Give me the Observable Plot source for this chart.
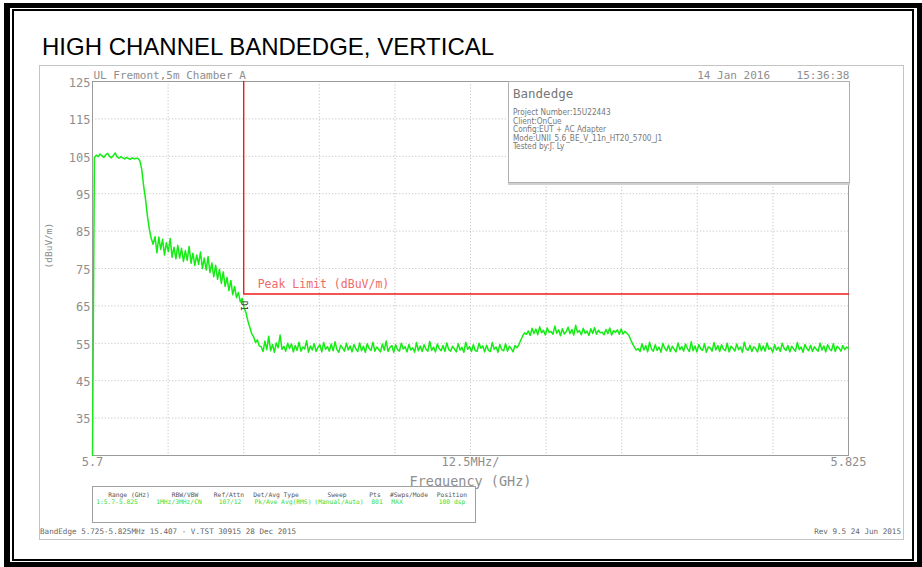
<!DOCTYPE html>
<html>
<head>
<meta charset="utf-8">
<script src="https://cdn.jsdelivr.net/npm/d3@7"></script>
<script src="https://cdn.jsdelivr.net/npm/@observablehq/plot@0.6"></script>
<style>
  html, body { margin: 0; padding: 0; background: #fff; }
  #page { position: relative; width: 922px; height: 567px; overflow: hidden; background: #fff; }
  .abs { position: absolute; }
  #outer { left: 4px; top: 3px; width: 907px; height: 554px; border: 5px solid #000; border-left-width: 6px; }
  #inner { left: 12px; top: 9px; width: 898px; height: 548px; border: 2px solid #000; }
  #title { left: 42px; top: 33px; font: 24px "Liberation Sans", Arial, sans-serif; color: #000; white-space: nowrap; }
  #shot { left: 39px; top: 65px; width: 863px; height: 473px; border: 1px solid #c4c4c4; }
  #chart { left: 39px; top: 65px; }
  .mono { font-family: "DejaVu Sans Mono", monospace; white-space: nowrap; }
  #info { left: 508px; top: 81px; width: 340px; height: 100px; background: #fff; border: 1px solid #b0b0b0; box-shadow: 0 2px 0 #d0d0d0; }
  #info .h { position: absolute; left: 4px; top: 4px; font-size: 12.5px; color: #777; }
  #info .l { position: absolute; left: 4px; font-family: "DejaVu Sans Condensed", "DejaVu Sans", sans-serif; font-size: 8.2px; color: #777; line-height: 8px; }
  #table { left: 92px; top: 486px; width: 382px; height: 35px; background: #fff; border: 1px solid #a0a0a0; }
  .th { position: absolute; top: 4px; font-size: 6.3px; color: #555; transform: translateX(-50%); }
  .td { position: absolute; top: 11px; font-size: 6.3px; color: #33dd33; transform: translateX(-50%); }
  .foot { top: 527px; font-size: 7.6px; color: #666; }
</style>
</head>
<body>
<div id="page">
  <div id="outer" class="abs"></div>
  <div id="inner" class="abs"></div>
  <div id="title" class="abs">HIGH CHANNEL BANDEDGE, VERTICAL</div>
  <div id="shot" class="abs"></div>
  <div id="chart" class="abs"></div>
  <div id="info" class="abs mono"></div>
  <div id="table" class="abs mono"></div>
  <div id="footL" class="abs mono foot" style="left:40px"></div>
  <div id="footR" class="abs mono foot" style="right:21px"></div>
</div>
<script>
// ---------------- data ----------------
const startGHz = 5.7;
const stopGHz = 5.825;
const yTicks = [35, 45, 55, 65, 75, 85, 95, 105, 115, 125];
const yGrid = [35, 45, 55, 65, 75, 85, 95, 105, 115];
const xGrid = [5.7125, 5.725, 5.7375, 5.75, 5.7625, 5.775, 5.7875, 5.8, 5.8125];
const xTickLabels = ["5.7", "12.5MHz/", "5.825"];
const xTickAt = [5.7, 5.7625, 5.825];
const limitFreqs = [5.725, 5.725, 5.825];
const limitLevels = [125, 68.2, 68.2];
const limitLabel = "Peak Limit (dBuV/m)";
const markerFreq = 5.725;
const markerLevel = 65.0;
const headerLeft = "UL Fremont,5m Chamber A";
const headerRight = "14 Jan 2016    15:36:38";
const xTitle = "Frequency (GHz)";
const yTitle = "(dBuV/m)";
const infoTitle = "Bandedge";
const infoLines = [
  "Project Number:15U22443",
  "Client:OnCue",
  "Config:EUT + AC Adapter",
  "Mode:UNII_5.6_BE_V_11n_HT20_5700_J1",
  "Tested by:J. Ly"
];
const tableHeaders = ["Range (GHz)", "RBW/VBW", "Ref/Attn", "Det/Avg Type", "Sweep", "Pts", "#Swps/Mode", "Position"];
const tableValues = ["1:5.7-5.825", "1MHz/3MHz/CN", "107/12", "Pk/Ave Avg(RMS)", "(Manual/Auto)", "801", "MAX", "100 dsp"];
const footerLeft = "BandEdge 5.725-5.825MHz 15.407 - V.TST 30915 28 Dec 2015";
const footerRight = "Rev 9.5 24 Jun 2015";

// sweep trace levels (dBuV/m), equally spaced sweep points from 5.7 to 5.825 GHz
const traceLevels = [
  25,
  104.6,105.3,104.9,105.6,105.1,104.7,105.4,105.8,105.0,104.6,105.2,105.9,104.8,104.5,104.9,104.6,104.3,104.7,104.4,104.2,104.6,104.3,104.5,104.4,
  103.8,101.5,97.0,93.5,89.0,85.5,83.0,81.5,83.5,
  79.2,83.4,80.1,82.8,78.6,81.9,79.5,83.0,78.0,80.7,77.6,
  81.2,77.8,80.4,76.9,79.8,77.2,80.9,76.4,79.1,75.8,78.6,76.1,
  79.4,75.0,77.8,74.6,78.2,73.9,76.5,72.8,75.9,72.1,74.8,
  71.0,74.1,70.2,72.6,69.1,71.8,68.0,70.2,67.2,68.6,66.1,67.0,
  64.5,63.2,61.0,59.3,57.6,56.8,55.2,55.9,54.3,
  54.1,52.8,55.6,53.3,56.9,53.0,54.7,52.6,55.1,53.8,57.2,53.4,54.2,52.9,55.0,53.6,54.8,52.7,54.4,53.1,
  55.3,52.9,54.0,53.5,55.7,52.6,54.3,53.2,54.9,52.8,53.9,54.6,52.7,55.2,53.4,54.1,52.9,54.8,53.0,55.4,
  53.3,52.6,54.5,53.7,52.9,55.0,53.2,54.3,52.7,54.7,53.5,52.8,55.1,53.0,54.2,52.6,54.9,53.6,53.1,55.3,
  52.9,54.0,53.4,52.7,54.8,53.1,55.6,52.8,53.9,54.4,52.6,54.6,53.3,52.9,55.0,53.5,54.1,52.7,54.7,53.2,
  53.8,52.6,55.2,53.0,54.3,52.8,54.6,53.4,52.9,55.5,53.1,54.0,52.7,54.8,53.6,53.0,54.4,52.8,55.1,53.3,
  52.9,54.2,53.5,52.7,54.9,53.2,53.9,52.6,55.3,53.4,54.1,52.8,54.6,53.0,52.9,55.0,53.7,54.3,52.7,54.5,
  53.1,52.8,55.2,53.4,54.0,52.6,54.7,53.3,53.0,54.9,52.9,54.2,53.6,52.7,54.4,53.8,
  54.6,55.8,56.9,57.8,57.4,
  58.3,57.1,59.0,57.6,58.8,57.3,59.4,57.8,58.5,57.2,59.1,57.9,58.2,57.4,59.6,57.7,58.6,57.0,58.9,57.5,
  58.1,59.3,57.6,58.7,57.2,59.8,57.9,58.4,57.3,59.0,57.7,58.3,57.1,58.9,57.6,59.2,57.4,58.5,57.8,58.0,
  57.3,58.7,57.6,59.1,57.2,58.4,57.9,58.6,57.4,58.8,57.5,58.2,57.7,
  57.2,56.0,54.9,54.0,53.2,
  53.6,52.8,54.9,53.2,54.4,52.7,55.3,53.5,52.9,54.6,53.1,54.0,52.6,55.0,53.7,53.0,54.5,52.8,54.2,53.4,
  52.7,55.1,53.3,54.1,52.9,54.8,53.6,52.8,55.4,53.0,54.3,52.7,54.7,53.5,53.1,54.9,52.6,54.0,53.8,52.9,
  55.2,53.2,54.4,52.8,54.6,53.4,53.0,55.0,52.7,54.2,53.7,52.9,54.8,53.3,54.0,52.6,55.3,53.5,53.1,54.5,
  52.8,54.1,53.6,52.7,54.9,53.0,54.3,52.9,55.1,53.4,53.8,52.6,54.6,53.2,54.0,52.8,55.0,53.7,53.1,54.4,
  52.7,54.2,53.5,52.9,55.2,53.3,54.0,52.6,54.7,53.6,53.0,54.5,52.8,54.1,53.4,52.9,55.0,53.2,54.3,52.7,
  54.6,53.5,53.0,54.9,52.8,54.2,53.7,52.9,54.4,53.3,54.0,53.6
];

// ---------------- build ----------------
const n = traceLevels.length;
const trace = traceLevels.map((v, i) => ({f: startGHz + i * (stopGHz - startGHz) / (n - 1), v}));
const limit = limitFreqs.map((f, i) => ({f, v: limitLevels[i]}));
const xLabels = xTickLabels.map((t, i) => ({t, f: xTickAt[i]}));

const MONO = "DejaVu Sans Mono, monospace";
const GRAY = "#8e8e8e";

const chart = Plot.plot({
  width: 864,
  height: 474,
  marginLeft: 53,
  marginRight: 55,
  marginTop: 16,
  marginBottom: 84,
  x: {domain: [startGHz, stopGHz], axis: null},
  y: {domain: [25, 125], axis: null},
  style: {fontFamily: MONO, background: "transparent", overflow: "visible"},
  marks: [
    Plot.ruleX(xGrid, {x: d => d, stroke: "#b8b8b8", strokeWidth: 0.8, strokeDasharray: "1.2,2"}),
    Plot.ruleY(yGrid, {y: d => d, stroke: "#b8b8b8", strokeWidth: 0.8, strokeDasharray: "1.2,2"}),
    Plot.frame({stroke: "#9a9a9a", strokeWidth: 1}),
    Plot.text(yTicks, {x: () => startGHz, y: d => d, text: d => String(d), textAnchor: "end", dx: -2, dy: 1.5, fontSize: 12, fill: GRAY}),
    Plot.text(xLabels, {x: "f", y: () => 25, text: "t", dy: 7, lineAnchor: "middle", fontSize: 12, fill: GRAY}),
    Plot.text([xTitle], {frameAnchor: "bottom", text: d => d, dy: 26, lineAnchor: "middle", fontSize: 13.5, fill: GRAY}),
    Plot.text([yTitle], {frameAnchor: "left", text: d => d, dx: -44, rotate: -90, fontSize: 9.5, fill: GRAY}),
    Plot.text([headerLeft], {frameAnchor: "top-left", text: d => d, dx: 1, dy: -6, textAnchor: "start", lineAnchor: "middle", fontSize: 11, fill: GRAY}),
    Plot.text([headerRight], {frameAnchor: "top-right", text: d => d, dx: 1, dy: -6, textAnchor: "end", lineAnchor: "middle", fontSize: 11, fill: GRAY}),
    Plot.line(limit, {x: "f", y: "v", stroke: "#ee1c1c", strokeWidth: 1.4}),
    Plot.text([limitLabel], {x: () => limitFreqs[0], y: () => limitLevels[1], text: d => d, textAnchor: "start", dx: 14, dy: -10, fontSize: 11.5, fill: "#f06a6a"}),
    Plot.line(trace, {x: "f", y: "v", stroke: "#14ec14", strokeWidth: 1.5, strokeLinejoin: "round"}),
    Plot.text(["D1"], {x: () => markerFreq, y: () => markerLevel, text: d => d, rotate: 90, fontSize: 8, fill: "#333"})
  ]
});
document.getElementById("chart").appendChild(chart);

// info box
const info = document.getElementById("info");
const h = document.createElement("div");
h.className = "h"; h.textContent = infoTitle; info.appendChild(h);
infoLines.forEach((s, i) => {
  const d = document.createElement("div");
  d.className = "l"; d.style.top = (26 + i * 8.5) + "px"; d.textContent = s; info.appendChild(d);
});

// settings table
const colCenters = [36, 92, 136, 183, 244, 282, 316, 359];
const valCenters = [24, 86, 137, 190, 246, 284, 304, 359];
const table = document.getElementById("table");
tableHeaders.forEach((s, i) => {
  const d = document.createElement("div");
  d.className = "th"; d.style.left = colCenters[i] + "px"; d.textContent = s; table.appendChild(d);
});
tableValues.forEach((s, i) => {
  const d = document.createElement("div");
  d.className = "td"; d.style.left = valCenters[i] + "px"; d.textContent = s; table.appendChild(d);
});

document.getElementById("footL").textContent = footerLeft;
document.getElementById("footR").textContent = footerRight;
</script>
</body>
</html>
